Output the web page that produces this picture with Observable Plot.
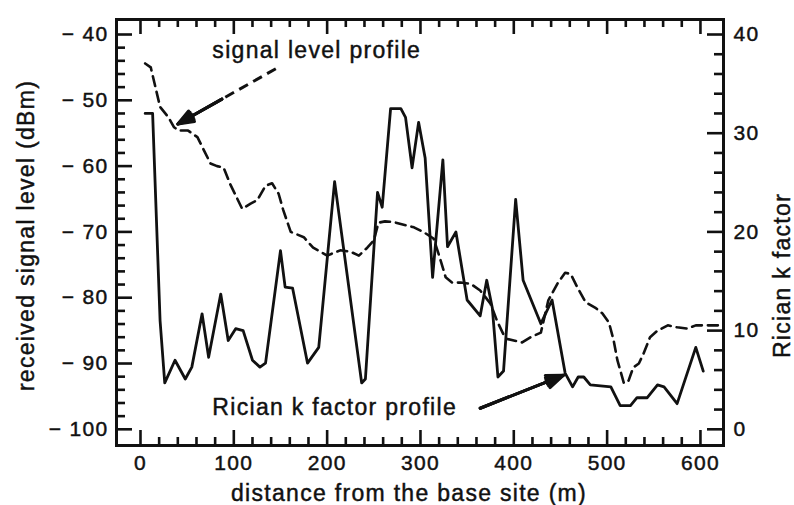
<!DOCTYPE html>
<html>
<head>
<meta charset="utf-8">
<script src="https://cdn.jsdelivr.net/npm/d3@7"></script>
<script src="https://cdn.jsdelivr.net/npm/@observablehq/plot@0.6"></script>
<style>
  html, body { margin: 0; padding: 0; background: #fff; }
  #chart svg text { stroke: #111; stroke-width: 0.45px; letter-spacing: 1.3px; }
</style>
</head>
<body>
<div id="chart"></div>
<script>
// ---- data ----
// dashed curve: received signal level (dBm) vs distance (m)
const signalDistance = [5, 11, 16, 21, 30, 36, 41, 51, 61, 68, 75, 82, 89, 96, 109, 118, 125, 134, 141, 148,
  153, 161, 175, 185, 200, 214, 225, 234, 243, 250, 255, 262, 271, 282, 293, 303, 314, 320, 327, 334,
  343, 354, 364, 375, 382, 391, 400, 409, 418, 429, 437, 447, 455, 461, 468, 477, 488, 495, 502, 507,
  511, 518, 523, 528, 534, 539, 546, 554, 565, 575, 586, 595, 603, 622];
const signalLevel = [-44.4, -45, -48, -51, -52.6, -54.1, -54.6, -54.6, -55.6, -57.6, -59.6, -60, -60.2, -62.7, -66.5, -65.7, -65.2, -63, -62.6, -64.2,
  -66.7, -70, -70.8, -72.4, -73.6, -72.8, -73, -73.6, -72.4, -71.3, -68.6, -68.4, -68.5, -68.9, -69.3, -70, -71, -73.6, -76.9, -77.7,
  -77.7, -77.9, -78.9, -80.9, -83.5, -86.2, -86.5, -86.8, -86, -85.3, -80.4, -77.8, -76.2, -76.4, -78.4, -80.7, -81.6, -82.4, -83.8, -86.5,
  -89.5, -93, -92.6, -90.6, -90, -88.5, -86, -85, -84.2, -84.5, -84.7, -84.2, -84.2, -84.2];

// solid curve: Rician k factor vs distance (m)
const kDistance = [5, 13, 21, 26, 37, 48, 55, 66, 73, 86, 94, 102, 110, 120, 128, 134, 150, 155, 163, 179,
  191, 208, 237, 241, 254, 259, 268, 279, 284, 291, 298, 305, 313, 324, 329, 338, 350, 364, 371, 377,
  383, 389, 402, 410, 429, 441, 455, 463, 469, 475, 482, 504, 514, 525, 532, 543, 554, 561, 575, 595, 603];
const kFactor = [32, 32, 11, 4.7, 7, 5.1, 6.3, 11.7, 7.3, 13.7, 9, 10.2, 10, 7, 6.3, 6.7, 18.1, 14.4, 14.3, 6.7,
  8.3, 25.1, 4.7, 5.1, 24, 22.5, 32.5, 32.5, 31.6, 26.5, 31.1, 27.5, 15.4, 27.3, 18.5, 20, 13.1, 11.5, 15.1, 12.3,
  5.3, 5.9, 23.3, 15.1, 10.7, 13.1, 5.7, 4.3, 5.3, 5.3, 4.5, 4.3, 2.4, 2.4, 3.2, 3.2, 4.5, 4.3, 2.6, 8.3, 5.9];

// axes
const distanceTicks = [0, 100, 200, 300, 400, 500, 600];
const levelTicks = [-40, -50, -60, -70, -80, -90, -100];
const kTicks = [0, 10, 20, 30, 40];
const xLabel = "distance from the base site (m)";
const yLabel = "received signal level (dBm)";
const kLabel = "Rician k factor";

// annotations (in data units)
const noteText = ["signal level profile", "Rician k factor profile"];
const noteX = [77, 77];
const noteY = [-43.5, -97.9];
const arrowX1 = [145, 364];
const arrowY1 = [-45.2, -96.8];
const arrowX2 = [40, 453];
const arrowY2 = [-53.6, -91.8];
const arrowDashed = [true, false];

// ---- build ----
const kToDb = k => -100 + 1.5 * k;     // right axis maps k = 0..40 onto -100..-40 dBm
const dbToK = v => (v + 100) / 1.5;

const signal = signalDistance.map((d, i) => ({distance: d, level: signalLevel[i]}));
const kProfile = kDistance.map((d, i) => ({distance: d, k: kFactor[i]}));
const notes = noteText.map((t, i) => ({text: t, x: noteX[i], y: noteY[i]}));
// shaft goes the whole way; the solid head part starts part-way along (dashed arrow keeps a dashed shaft)
const arrows = arrowX1.map((x1, i) => {
  const f = arrowDashed[i] ? 0.55 : 0;
  return {x1, y1: arrowY1[i], x2: arrowX2[i], y2: arrowY2[i], dashed: arrowDashed[i],
    hx: x1 + f * (arrowX2[i] - x1), hy: arrowY1[i] + f * (arrowY2[i] - arrowY1[i])};
});

const xMinor = d3.range(0, 601, 20).filter(v => v % 100 !== 0);
const yMinor = d3.range(-98, -40, 2).filter(v => v % 10 !== 0);
const kMinor = d3.range(2, 40, 2).filter(v => v % 10 !== 0);

const ink = "#111";
const W = 794, H = 505;
const mL = 116, mR = 71, mT = 19, mB = 60;
const FW = W - mL - mR, FH = H - mT - mB;   // frame size in px

const chart = Plot.plot({
  width: W, height: H,
  marginLeft: mL, marginRight: mR, marginTop: mT, marginBottom: mB,
  x: {domain: [-25.7, 624.7]},
  y: {domain: [-102.46, -37.72]},
  style: {fontFamily: "'Liberation Sans', Arial, Helvetica, sans-serif", fontSize: "21px", color: ink, background: "#fff"},
  marks: [
    // inward tick marks: left
    Plot.tickY(yMinor, {y: d => d, stroke: ink, strokeWidth: 2.6, insetRight: FW - 9}),
    Plot.tickY(levelTicks, {y: d => d, stroke: ink, strokeWidth: 2.6, insetRight: FW - 16}),
    // right (k factor)
    Plot.tickY(kMinor, {y: d => kToDb(d), stroke: ink, strokeWidth: 2.6, insetLeft: FW - 9}),
    Plot.tickY(kTicks, {y: d => kToDb(d), stroke: ink, strokeWidth: 2.6, insetLeft: FW - 16}),
    // bottom
    Plot.tickX(xMinor, {x: d => d, stroke: ink, strokeWidth: 2.6, insetTop: FH - 8}),
    Plot.tickX(distanceTicks, {x: d => d, stroke: ink, strokeWidth: 2.6, insetTop: FH - 15}),
    // top
    Plot.tickX(xMinor, {x: d => d, stroke: ink, strokeWidth: 2.6, insetBottom: FH - 8}),
    Plot.tickX(distanceTicks, {x: d => d, stroke: ink, strokeWidth: 2.6, insetBottom: FH - 15}),
    // tick labels
    Plot.axisY(levelTicks, {anchor: "left", tickSize: 0, tickPadding: 8, fontSize: 21, fill: ink, label: null,
      tickFormat: d => d < 0 ? "\u2212 " + Math.abs(d) : String(d)}),
    Plot.axisY(kTicks.map(kToDb), {anchor: "right", tickSize: 0, tickPadding: 10, fontSize: 21, fill: ink, label: null,
      tickFormat: d => String(Math.round(dbToK(d)))}),
    Plot.axisX(distanceTicks, {anchor: "bottom", tickSize: 0, tickPadding: 10, fontSize: 21, fill: ink, label: null}),
    // axis titles
    Plot.text([xLabel], {text: d => d, frameAnchor: "bottom", textAnchor: "middle", lineAnchor: "bottom", dx: -11, dy: 55, fontSize: 23, fill: ink}),
    Plot.text([yLabel], {text: d => d, frameAnchor: "left", rotate: -90, textAnchor: "middle", lineAnchor: "bottom", dx: -83, dy: 3, fontSize: 23, fill: ink}),
    Plot.text([kLabel], {text: d => d, frameAnchor: "right", rotate: -90, textAnchor: "middle", lineAnchor: "bottom", dx: 66, dy: 43, fontSize: 23, fill: ink}),
    // curves
    Plot.line(signal, {x: "distance", y: "level", stroke: ink, strokeWidth: 2.6, strokeDasharray: "10,6"}),
    Plot.line(kProfile, {x: "distance", y: d => kToDb(d.k), stroke: ink, strokeWidth: 2.8}),
    // annotations
    Plot.text(notes, {x: "x", y: "y", text: "text", textAnchor: "start", lineAnchor: "bottom", fontSize: 23, fill: ink}),
    Plot.link(arrows.filter(d => d.dashed), {x1: "x1", y1: "y1", x2: "hx", y2: "hy", stroke: ink, strokeWidth: 3, strokeDasharray: "10,6"}),
    ...[14, 28, 42].map(a =>
      Plot.arrow(arrows, {x1: "hx", y1: "hy", x2: "x2", y2: "y2", stroke: ink, strokeWidth: 3, headAngle: a, headLength: 9, insetEnd: 0})),
    Plot.frame({stroke: ink, strokeWidth: 3})
  ]
});

document.getElementById("chart").appendChild(chart);
</script>
</body>
</html>
